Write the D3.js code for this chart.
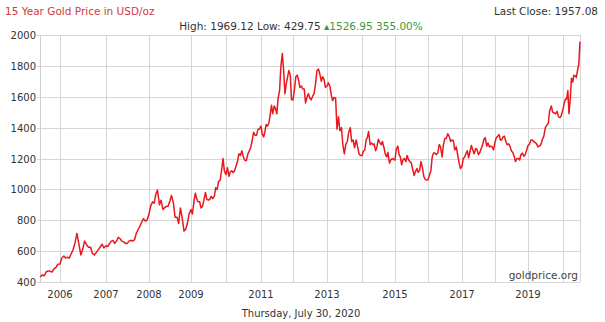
<!DOCTYPE html>
<html>
<head>
<meta charset="utf-8">
<script src="https://cdn.jsdelivr.net/npm/d3@7"></script>
<style>
  body { margin: 0; background: #fff; }
  svg { display: block; font-family: "DejaVu Sans", Verdana, sans-serif; }
</style>
</head>
<body>
<svg id="chart" width="605" height="322"></svg>
<script>
// semi-monthly closes (1st and 15th), Aug 2005 .. Jul 2020, last value is Jul 30 2020
var prices = [
  432, 445, 440, 465, 472, 470, 465, 485, 495, 515,                                                      // 2005 Aug-Dec
  517, 555, 568, 555, 560, 555, 585, 610, 655, 715, 640, 575, 615, 665, 640, 625, 625, 585, 575, 590, 610, 625, 645, 620, // 2006
  635, 630, 650, 665, 670, 650, 665, 690, 680, 665, 660, 650, 650, 665, 670, 665, 675, 715, 740, 760, 790, 810, 795, 800, // 2007
  840, 890, 920, 910, 970, 995, 900, 930, 870, 880, 890, 890, 925, 960, 910, 820, 820, 780, 880, 820, 730, 740, 780, 840, // 2008
  870, 840, 920, 975, 940, 920, 920, 880, 890, 930, 980, 935, 930, 935, 955, 940, 955, 1010, 1000, 1050, 1060, 1120, 1200, 1120, // 2009
  1095, 1140, 1085, 1115, 1120, 1110, 1120, 1150, 1180, 1230, 1220, 1250, 1210, 1190, 1185, 1225, 1250, 1270, 1315, 1370, 1350, 1350, 1390, 1390, // 2010
  1410, 1360, 1340, 1375, 1420, 1410, 1430, 1480, 1545, 1490, 1540, 1525, 1490, 1590, 1640, 1790, 1880, 1780, 1620, 1680, 1730, 1770, 1740, 1580, // 2011
  1580, 1640, 1730, 1740, 1710, 1660, 1670, 1650, 1650, 1560, 1600, 1620, 1590, 1580, 1605, 1620, 1690, 1770, 1780, 1750, 1700, 1730, 1710, 1660, // 2012
  1670, 1690, 1665, 1610, 1575, 1595, 1590, 1390, 1470, 1380, 1400, 1290, 1230, 1290, 1310, 1370, 1400, 1310, 1320, 1270, 1320, 1280, 1230, 1220, // 2013
  1220, 1245, 1255, 1320, 1335, 1375, 1290, 1300, 1290, 1295, 1250, 1275, 1325, 1305, 1290, 1310, 1270, 1230, 1210, 1240, 1170, 1190, 1200, 1195, // 2014
  1190, 1260, 1280, 1225, 1210, 1160, 1195, 1200, 1180, 1220, 1190, 1180, 1170, 1130, 1090, 1115, 1135, 1110, 1125, 1180, 1140, 1085, 1065, 1060, // 2015
  1062, 1090, 1120, 1210, 1235, 1235, 1225, 1235, 1290, 1275, 1210, 1290, 1330, 1330, 1360, 1345, 1310, 1320, 1315, 1255, 1275, 1225, 1170, 1135, // 2016
  1150, 1200, 1210, 1235, 1250, 1205, 1250, 1285, 1255, 1230, 1265, 1260, 1225, 1235, 1265, 1285, 1325, 1335, 1280, 1300, 1275, 1280, 1275, 1255, // 2017
  1305, 1335, 1345, 1355, 1320, 1320, 1340, 1345, 1310, 1290, 1295, 1280, 1250, 1240, 1215, 1180, 1200, 1200, 1190, 1225, 1235, 1215, 1225, 1250, // 2018
  1285, 1290, 1320, 1320, 1310, 1305, 1295, 1275, 1280, 1290, 1325, 1345, 1400, 1415, 1430, 1510, 1540, 1500, 1495, 1490, 1505, 1470, 1465, 1480, // 2019
  1520, 1555, 1585, 1585, 1640, 1490, 1590, 1720, 1695, 1740, 1735, 1725, 1775, 1810, 1957.08              // 2020
];
var yTicks = [400, 600, 800, 1000, 1200, 1400, 1600, 1800, 2000];
var gridYears = [2006, 2007, 2008, 2009, 2010, 2011, 2012, 2013, 2014, 2015, 2016, 2017, 2018, 2019, 2020];
var labelYears = [2006, 2007, 2008, 2009, 2011, 2013, 2015, 2017, 2019];

var svg = d3.select("#chart");
var plotLeft = 40, plotRight = 580, plotTop = 35, plotBottom = 282;

// dates: 1st and 15th of each month, last point on Jul 30 2020
var dates = [];
d3.timeMonth.range(new Date(2005, 7, 1), new Date(2020, 7, 1)).forEach(function(m) {
  dates.push(m);
  dates.push(new Date(m.getFullYear(), m.getMonth(), 15));
});
dates = dates.slice(0, prices.length - 1);
dates.push(new Date(2020, 6, 30));
var data = dates.map(function(d, i) { return { date: d, price: prices[i] }; });

// the x axis of the original is not evenly spaced per year
var xDomain = [new Date(2005, 6, 30)].concat(gridYears.map(function(yr) { return new Date(yr, 0, 1); }), [new Date(2020, 6, 30)]);
var x = d3.scaleTime()
  .domain(xDomain)
  .range([40, 60, 106, 149, 191, 226, 261, 293, 327, 362, 395, 428, 462, 495, 528, 563, 580]);
var y = d3.scaleLinear().domain([400, 2000]).range([plotBottom, plotTop]);

// grid
svg.append("g").selectAll("line").data(yTicks).enter().append("line")
  .attr("x1", plotLeft - 3).attr("x2", plotRight)
  .attr("y1", function(d) { return Math.round(y(d)) + 0.5; }).attr("y2", function(d) { return Math.round(y(d)) + 0.5; })
  .attr("stroke", "#d6d6d6");
svg.append("g").selectAll("line").data(gridYears).enter().append("line")
  .attr("x1", function(d) { return Math.round(x(new Date(d, 0, 1))) + 0.5; })
  .attr("x2", function(d) { return Math.round(x(new Date(d, 0, 1))) + 0.5; })
  .attr("y1", plotTop).attr("y2", plotBottom)
  .attr("stroke", "#d6d6d6");
svg.append("line").attr("x1", plotLeft + 0.5).attr("x2", plotLeft + 0.5).attr("y1", plotTop).attr("y2", plotBottom).attr("stroke", "#cfcfcf");
svg.append("line").attr("x1", plotRight + 0.5).attr("x2", plotRight + 0.5).attr("y1", plotTop).attr("y2", plotBottom).attr("stroke", "#d6d6d6");

// axis labels
svg.append("g").selectAll("text").data(yTicks).enter().append("text")
  .attr("x", plotLeft - 4).attr("y", function(d) { return y(d) + 4; })
  .attr("text-anchor", "end").attr("font-size", 10).attr("fill", "#333")
  .text(function(d) { return d; });
svg.append("g").selectAll("text").data(labelYears).enter().append("text")
  .attr("x", function(d) { return x(new Date(d, 0, 1)); }).attr("y", 298)
  .attr("text-anchor", "middle").attr("font-size", 10).attr("fill", "#333")
  .text(function(d) { return d; });

// price line
var line = d3.line()
  .x(function(d) { return x(d.date); })
  .y(function(d) { return y(d.price); });
svg.append("path").datum(data)
  .attr("d", line)
  .attr("fill", "none")
  .attr("stroke", "#e8181e")
  .attr("stroke-width", 1.5)
  .attr("stroke-linejoin", "round");

// texts
svg.append("text").attr("x", 5).attr("y", 15).attr("font-size", 10.5).attr("fill", "#d0393f")
  .text("15 Year Gold Price in USD/oz");
svg.append("text").attr("x", 598).attr("y", 15).attr("font-size", 10.5).attr("fill", "#333").attr("text-anchor", "end")
  .text("Last Close: 1957.08");
var hl = svg.append("text").attr("x", 301).attr("y", 30).attr("font-size", 10.5).attr("text-anchor", "middle");
hl.append("tspan").attr("fill", "#333").text("High: 1969.12 Low: 429.75 ");
hl.append("tspan").attr("fill", "#3a9a3a").text("\u25B41526.95 355.00%");
svg.append("text").attr("x", 578).attr("y", 279).attr("font-size", 10.5).attr("fill", "#444").attr("text-anchor", "end")
  .text("goldprice.org");
svg.append("text").attr("x", 301).attr("y", 317).attr("font-size", 10).attr("fill", "#333").attr("text-anchor", "middle")
  .text("Thursday, July 30, 2020");
</script>
</body>
</html>
